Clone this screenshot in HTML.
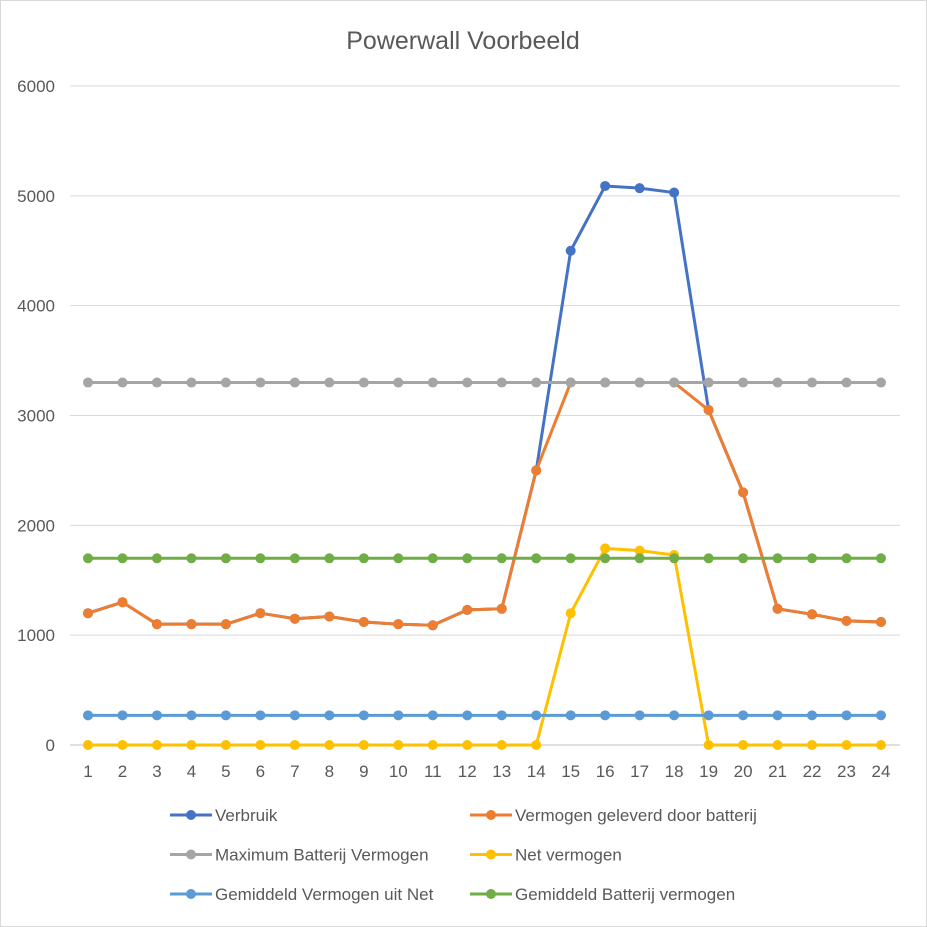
<!DOCTYPE html>
<html><head><meta charset="utf-8"><style>
html,body{margin:0;padding:0;background:#fff;}
svg{display:block;font-family:"Liberation Sans",sans-serif;}
</style></head><body>
<svg id="c" width="927" height="927" viewBox="0 0 927 927" xmlns="http://www.w3.org/2000/svg">
<rect x="0.5" y="0.5" width="926" height="926" fill="#fff" stroke="#d9d9d9"/>
<text x="463" y="49" text-anchor="middle" font-size="25" fill="#595959">Powerwall Voorbeeld</text>
<g id="grid"></g><g id="series"></g><g id="legend"></g>
</svg>
<script>
var ns="http://www.w3.org/2000/svg";
function el(p,t,a,txt){var e=document.createElementNS(ns,t);for(var k in a)e.setAttribute(k,a[k]);if(txt!=null)e.textContent=txt;p.appendChild(e);return e;}
var g=document.getElementById('grid'),s=document.getElementById('series'),L=document.getElementById('legend');
function Y(v){return 745-v*0.10983;}
function X(i){return 88+i*34.478;}
for(var k=0;k<=6;k++){var y=Y(k*1000);
 el(g,'line',{x1:70,x2:900,y1:y,y2:y,stroke:k==0?'#bfbfbf':'#d9d9d9','stroke-width':1});
 el(g,'text',{x:55,y:y+6,'text-anchor':'end','font-size':17,fill:'#595959'},String(k*1000));}
for(var i=0;i<24;i++)el(g,'text',{x:X(i),y:777,'text-anchor':'middle','font-size':17,fill:'#595959'},String(i+1));
var verb=[1200,1300,1100,1100,1100,1200,1150,1170,1120,1100,1090,1230,1240,2500,4500,5090,5070,5030,3050,2300,1240,1190,1130,1120];
var bat=verb.map(function(v){return Math.min(v,3300);});
var net=verb.map(function(v,i){return i>=14&&i<=17?[1200,1790,1770,1730][i-14]:0;});
function c(v){var a=[];for(var i=0;i<24;i++)a.push(v);return a;}
var S=[[verb,'#4472C4'],[bat,'#ED7D31'],[c(3300),'#A5A5A5'],[net,'#FFC000'],[c(270),'#5B9BD5'],[c(1700),'#70AD47']];
S.forEach(function(sr){var d=sr[0].map(function(v,i){return X(i)+','+Y(v);}).join(' ');
 el(s,'polyline',{points:d,fill:'none',stroke:sr[1],'stroke-width':3,'stroke-linejoin':'round'});
 sr[0].forEach(function(v,i){el(s,'circle',{cx:X(i),cy:Y(v),r:5,fill:sr[1]});});});
var names=['Verbruik','Vermogen geleverd door batterij','Maximum Batterij Vermogen','Net vermogen','Gemiddeld Vermogen uit Net','Gemiddeld Batterij vermogen'];
names.forEach(function(n,i){var col=i%2,row=Math.floor(i/2);var x0=col?470:170,y=815+row*39.5;
 el(L,'line',{x1:x0,x2:x0+42,y1:y,y2:y,stroke:S[i][1],'stroke-width':3});
 el(L,'circle',{cx:x0+21,cy:y,r:5,fill:S[i][1]});
 el(L,'text',{x:x0+45,y:y+6,'font-size':17,fill:'#595959'},n);});
</script>
</body></html>
